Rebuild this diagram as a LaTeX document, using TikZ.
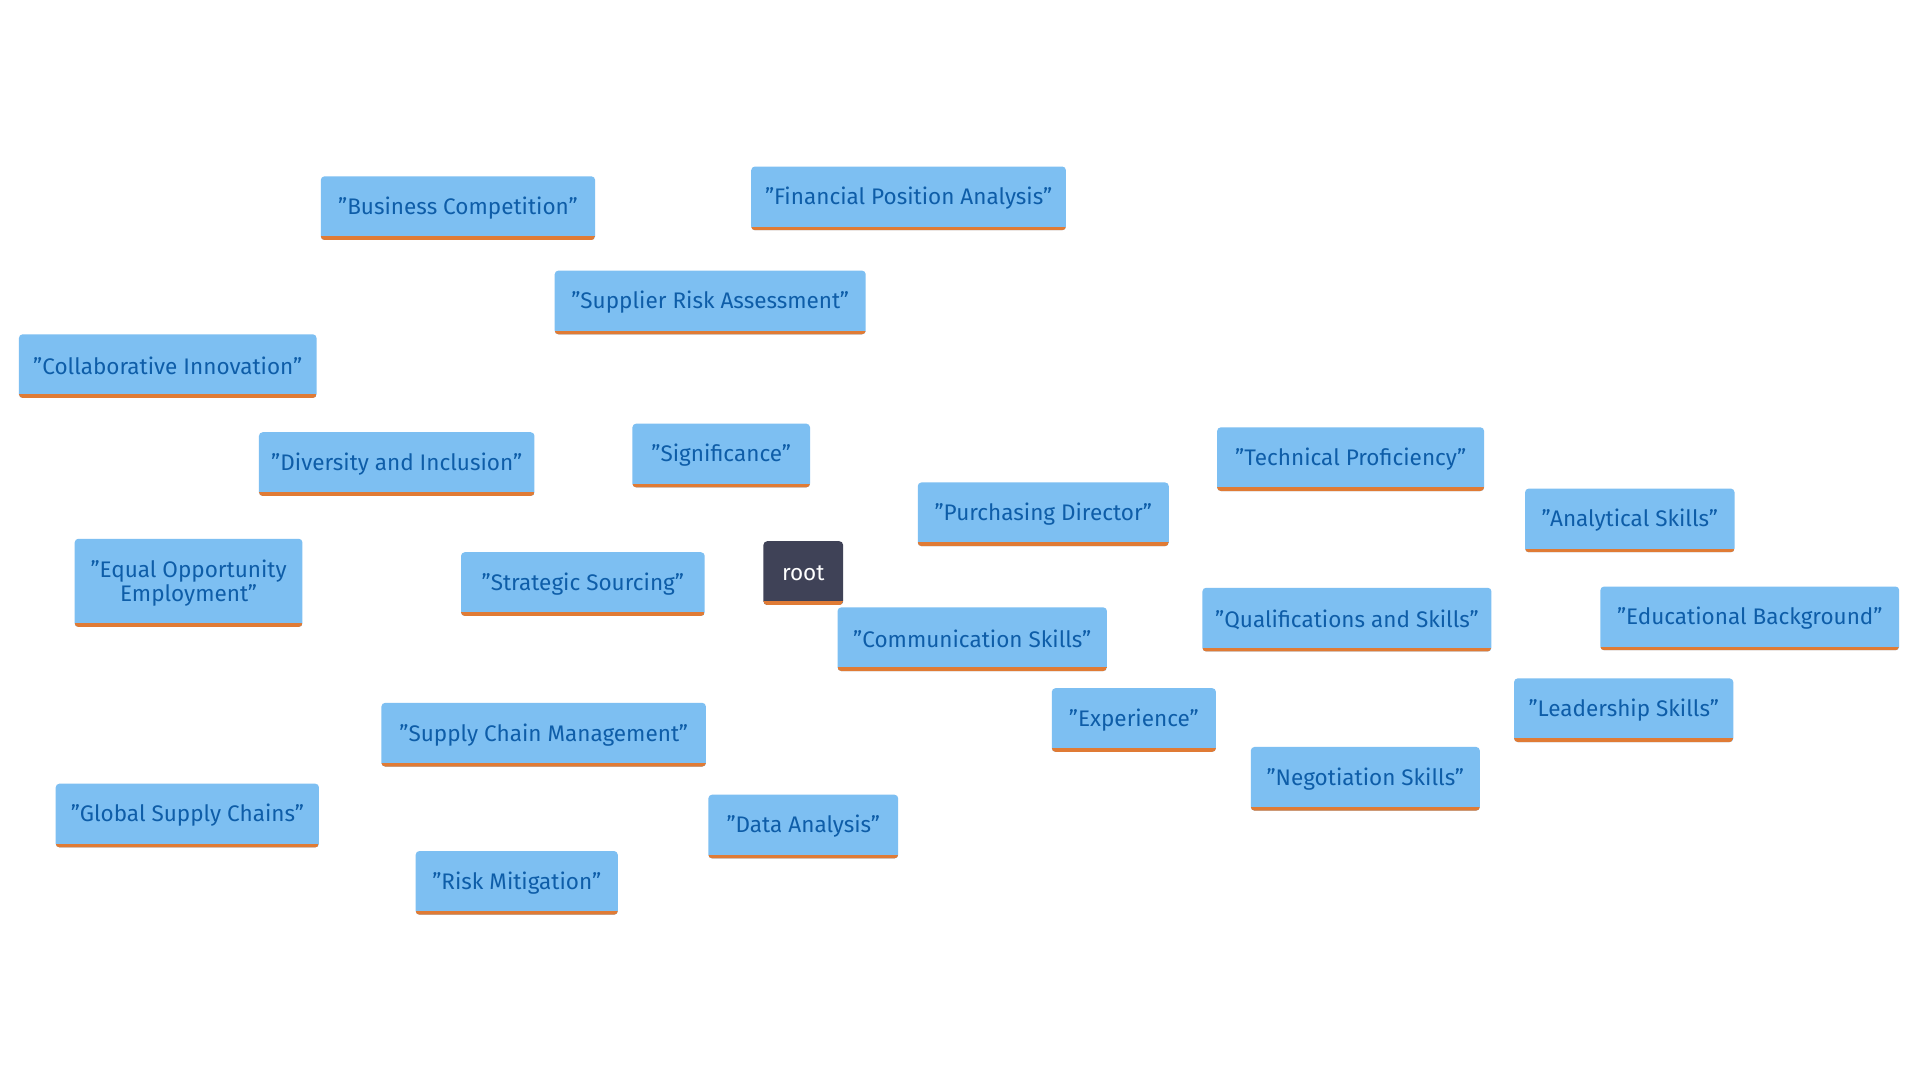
\documentclass[tikz,border=0pt]{standalone}
\usepackage{fontspec}
\setmainfont{Fira Sans}
\usetikzlibrary{backgrounds}
\definecolor{boxfill}{HTML}{7DBFF2}
\definecolor{boxtext}{HTML}{0E5DA8}
\definecolor{edgec}{HTML}{7DBAE8}
\definecolor{orangeb}{HTML}{E07B35}
\definecolor{rootc}{HTML}{3F4257}
\begin{document}
\begin{tikzpicture}[x=0.5pt,y=-0.5pt,
  bx/.style={fill=boxfill,text=boxtext,rounded corners=1.5pt,inner sep=0pt,minimum height=26pt,align=center,
    font=\fontsize{9.2}{10}\selectfont,
    path picture={\draw[orangeb,line width=3pt] (path picture bounding box.south west) -- (path picture bounding box.south east);}},
  rootbox/.style={bx,fill=rootc,text=white},
  ed/.style={draw=edgec,line width=2pt}]
\useasboundingbox (0,0) rectangle (1568,882);
\fill[white] (0,0) rectangle (1568,882);
\newcommand{\bnode}[5]{\node[#5,minimum width=#4*0.5pt] (#1) at (#2,#3)}
\bnode{bc}{374}{170}{224}{bx}{"Business Competition"};
\bnode{fpa}{742}{162}{257}{bx}{"Financial Position Analysis"};
\bnode{sra}{580}{247}{254}{bx}{"Supplier Risk Assessment"};
\bnode{ci}{137}{299}{243}{bx}{"Collaborative Innovation"};
\bnode{di}{324}{379}{225}{bx}{"Diversity and Inclusion"};
\node[bx,minimum width=93pt,minimum height=36pt] (eoe) at (154,476) {"Equal Opportunity\\Employment"};
\bnode{sig}{589}{372}{145}{bx}{"Significance"};
\bnode{ss}{476}{477}{199}{bx}{"Strategic Sourcing"};
\bnode{root}{656}{468}{65}{rootbox}{root};
\bnode{pd}{852}{420}{205}{bx}{"Purchasing Director"};
\bnode{tp}{1103}{375}{218}{bx}{"Technical Proficiency"};
\bnode{as}{1331}{425}{171}{bx}{"Analytical Skills"};
\bnode{qs}{1100}{506}{236}{bx}{"Qualifications and Skills"};
\bnode{eb}{1429}{505}{244}{bx}{"Educational Background"};
\bnode{cs}{794}{522}{220}{bx}{"Communication Skills"};
\bnode{ex}{926}{588}{134}{bx}{"Experience"};
\bnode{ls}{1326}{580}{179}{bx}{"Leadership Skills"};
\bnode{ns}{1115}{636}{187}{bx}{"Negotiation Skills"};
\bnode{scm}{444}{600}{265}{bx}{"Supply Chain Management"};
\bnode{gsc}{153}{666}{215}{bx}{"Global Supply Chains"};
\bnode{da}{656}{675}{155}{bx}{"Data Analysis"};
\bnode{rm}{422}{721}{165}{bx}{"Risk Mitigation"};
\begin{pgfonlayer}{background}
\foreach \a/\b in {root/pd,pd/sig,pd/qs,sig/sra,sra/bc,sra/fpa,sig/di,di/ci,di/eoe,sig/ss,ss/scm,scm/gsc,scm/rm,scm/da,qs/tp,qs/as,qs/eb,qs/ls,qs/ns,qs/ex,qs/cs}
  \draw[ed] (\a.center) -- (\b.center);
\end{pgfonlayer}
\end{tikzpicture}
\end{document}
